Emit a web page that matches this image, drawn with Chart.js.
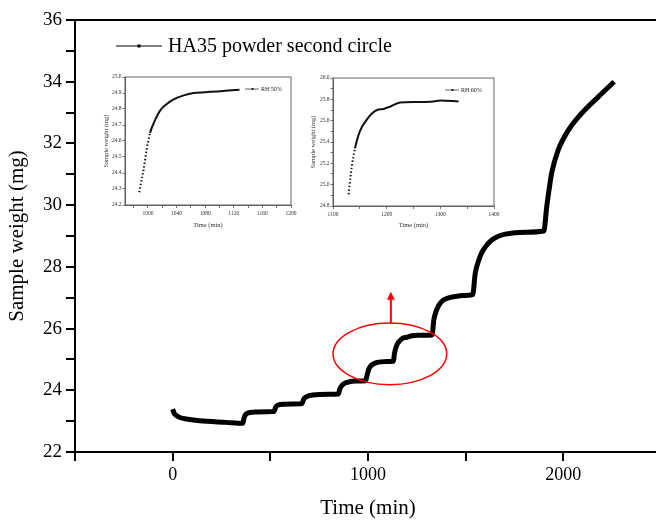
<!DOCTYPE html>
<html>
<head>
<meta charset="utf-8">
<script src="https://cdn.jsdelivr.net/npm/chart.js@4.4.0/dist/chart.umd.min.js"></script>
<style>
  html, body { margin: 0; padding: 0; background: #fff; overflow: hidden; }
  #wrap { position: relative; width: 656px; height: 522px; overflow: hidden; }
  canvas { position: absolute; }
  #main { left: 0; top: 0; }
  #inset50 { left: 95px; top: 68px; }
  #inset60 { left: 305px; top: 68px; }
</style>
</head>
<body>
<div id="wrap">
  <canvas id="main" width="664" height="522"></canvas>
  <canvas id="inset50" width="205" height="175"></canvas>
  <canvas id="inset60" width="200" height="177"></canvas>
</div>
<script>
// main curve
const timeMin = [0, 8, 19, 40, 70, 138, 274, 359, 366, 376, 395, 430, 512, 520, 527, 540, 570, 656,
  662, 670, 685, 716, 801, 848, 856, 870, 895, 940, 988, 994, 1003, 1017, 1036, 1064, 1097,
  1130, 1135, 1141, 1150, 1163, 1182, 1194, 1206, 1225, 1256, 1287, 1328, 1337, 1348, 1362, 1385,
  1405, 1447, 1490, 1536, 1549, 1566, 1583, 1610, 1634, 1670, 1702, 1804, 1900, 1915, 1927, 1940,
  1974, 2026, 2093, 2179, 2260];
const weightMg = [23.39, 23.25, 23.18, 23.11, 23.07, 23.01, 22.96, 22.93, 23.12, 23.23, 23.28, 23.30, 23.31,
  23.32, 23.45, 23.52, 23.55, 23.56, 23.57, 23.70, 23.79, 23.85, 23.87, 23.88, 24.05, 24.18, 24.26, 24.30,
  24.31, 24.45, 24.67, 24.81, 24.88, 24.92, 24.93, 24.94, 25.17, 25.34, 25.50, 25.61, 25.70, 25.71, 25.73,
  25.77, 25.78, 25.78, 25.79, 26.28, 26.55, 26.75, 26.92, 26.98, 27.04, 27.07, 27.10, 27.79, 28.2, 28.47,
  28.72, 28.87, 29.0, 29.06, 29.12, 29.16, 29.95, 30.5, 31.03, 31.79, 32.43, 32.97, 33.51, 34.0];

// inset RH 50%
const time50 = [988, 991, 994, 998, 1003, 1010, 1017, 1026, 1036, 1050, 1064, 1080, 1097, 1112, 1128];
const weight50 = [24.28, 24.35, 24.42, 24.54, 24.65, 24.73, 24.79, 24.83, 24.86, 24.885, 24.90, 24.905, 24.91, 24.915, 24.92];

// inset RH 60%
const time60 = [1129, 1135, 1141, 1150, 1163, 1173, 1182, 1194, 1206, 1225, 1256, 1287, 1300, 1334];
const weight60 = [24.91, 25.17, 25.34, 25.50, 25.61, 25.67, 25.70, 25.71, 25.73, 25.77, 25.775, 25.78, 25.79, 25.78];

const mainLabel = "HA35 powder second circle";
const serif = "'Liberation Serif', 'Times New Roman', serif";

// highlighted region (data units)
const mark = { cx: 1112, cy: 25.18, rx: 291, ry: 1.0, arrowX: 1117, arrowTop: 27.19 };

const toPoints = (xs, ys) => xs.map((t, i) => ({ x: t, y: ys[i] }));

// top border, legend, red ellipse + arrow
const mainOverlay = {
  id: "mainOverlay",
  afterDatasetsDraw(chart) {
    const { ctx, chartArea, scales: { x, y } } = chart;
    ctx.save();
    ctx.strokeStyle = "#000";
    ctx.lineWidth = 2;
    ctx.beginPath();
    ctx.moveTo(chartArea.left - 1, chartArea.top);
    ctx.lineTo(chartArea.right, chartArea.top);
    ctx.lineTo(chartArea.right, chartArea.bottom);
    ctx.stroke();

    // legend
    const ly = chartArea.top + 26;
    const lx = chartArea.left + 41;
    ctx.lineWidth = 1.2;
    ctx.beginPath();
    ctx.moveTo(lx, ly);
    ctx.lineTo(lx + 46, ly);
    ctx.stroke();
    ctx.fillStyle = "#000";
    ctx.fillRect(lx + 21.5, ly - 1.5, 3, 3);
    ctx.font = "20px " + serif;
    ctx.textBaseline = "middle";
    ctx.fillText(mainLabel, lx + 52, ly + 1);

    // ellipse
    const cx = x.getPixelForValue(mark.cx);
    const cy = y.getPixelForValue(mark.cy);
    const rx = x.getPixelForValue(mark.cx + mark.rx) - cx;
    const ry = cy - y.getPixelForValue(mark.cy + mark.ry);
    ctx.strokeStyle = "#ff0000";
    ctx.lineWidth = 1.5;
    ctx.beginPath();
    ctx.ellipse(cx, cy, rx, ry, 0, 0, Math.PI * 2);
    ctx.stroke();

    // arrow
    const ax = x.getPixelForValue(mark.arrowX);
    const tip = y.getPixelForValue(mark.arrowTop);
    ctx.lineWidth = 2;
    ctx.beginPath();
    ctx.moveTo(ax, cy - ry);
    ctx.lineTo(ax, tip + 6);
    ctx.stroke();
    ctx.fillStyle = "#ff0000";
    ctx.beginPath();
    ctx.moveTo(ax, tip);
    ctx.lineTo(ax - 4, tip + 8);
    ctx.lineTo(ax + 4, tip + 8);
    ctx.closePath();
    ctx.fill();
    ctx.restore();
  }
};

new Chart(document.getElementById("main"), {
  type: "line",
  data: {
    datasets: [{
      label: mainLabel,
      data: toPoints(timeMin, weightMg),
      borderColor: "#000",
      borderWidth: 5,
      pointRadius: 0,
      cubicInterpolationMode: "monotone",
      fill: false
    }]
  },
  options: {
    responsive: false,
    animation: false,
    layout: { padding: { top: 20, right: 1, left: 0, bottom: 0 } },
    plugins: { legend: { display: false }, tooltip: { enabled: false } },
    scales: {
      x: {
        type: "linear",
        min: -500,
        max: 2500,
        afterFit: (s) => { s.height = 70; },
        ticks: {
          stepSize: 500,
          autoSkip: false,
          maxRotation: 0,
          padding: 3,
          color: "#000",
          font: { family: serif, size: 18 },
          callback: (v) => (v % 1000 === 0 ? String(v) : "")
        },
        grid: { drawOnChartArea: false, color: "#000", lineWidth: 2, tickLength: 9 },
        border: { color: "#000", width: 2 },
        title: {
          display: true,
          text: "Time (min)",
          color: "#000",
          font: { family: serif, size: 21 },
          padding: { top: 0, bottom: 1 }
        }
      },
      y: {
        min: 22,
        max: 36,
        afterFit: (s) => { s.width = 75; },
        ticks: {
          stepSize: 1,
          autoSkip: false,
          padding: 4,
          color: "#000",
          font: { family: serif, size: 19 },
          callback: (v) => (v % 2 === 0 ? String(v) : "")
        },
        grid: { drawOnChartArea: false, color: "#000", lineWidth: 2, tickLength: 9 },
        border: { color: "#000", width: 2 },
        title: {
          display: true,
          text: "Sample weight (mg)",
          color: "#000",
          font: { family: serif, size: 21 },
          padding: { top: 5, bottom: 0 }
        }
      }
    }
  },
  plugins: [mainOverlay]
});

// inset frame + small legend
const insetOverlay = {
  id: "insetOverlay",
  afterDatasetsDraw(chart, args, opts) {
    const { ctx, chartArea } = chart;
    ctx.save();
    ctx.strokeStyle = "#555";
    ctx.lineWidth = 0.9;
    ctx.strokeRect(chartArea.left, chartArea.top, chartArea.right - chartArea.left, chartArea.bottom - chartArea.top);
    const ly = chartArea.top + opts.legendDy;
    const lx = chartArea.right - opts.legendDx;
    ctx.strokeStyle = "#222";
    ctx.lineWidth = 0.7;
    ctx.beginPath();
    ctx.moveTo(lx, ly);
    ctx.lineTo(lx + 14, ly);
    ctx.stroke();
    ctx.fillStyle = "#222";
    ctx.fillRect(lx + 6.5, ly - 1, 2, 2);
    ctx.font = "6px " + serif;
    ctx.textBaseline = "middle";
    ctx.fillText(chart.data.datasets[0].label, lx + 16, ly + 0.5);
    ctx.restore();
  }
};

function makeInset(id, label, xs, ys, cfg) {
  const small = { family: serif, size: 5.5 };
  new Chart(document.getElementById(id), {
    type: "line",
    data: {
      datasets: [{
        label: label,
        data: toPoints(xs, ys),
        borderColor: "#111",
        borderWidth: 2,
        pointRadius: 0,
        cubicInterpolationMode: "monotone",
        segment: {
          borderDash: (c) => ((c.p1.parsed.y - c.p0.parsed.y) / (c.p1.parsed.x - c.p0.parsed.x) > 0.02 ? [1.4, 2.2] : undefined)
        }
      }]
    },
    options: {
      responsive: false,
      animation: false,
      layout: { padding: { top: cfg.padTop, right: cfg.padRight, left: 0, bottom: 0 } },
      plugins: {
        legend: { display: false },
        tooltip: { enabled: false },
        insetOverlay: { legendDx: cfg.legendDx, legendDy: cfg.legendDy }
      },
      scales: {
        x: {
          type: "linear",
          min: cfg.xMin,
          max: cfg.xMax,
          afterFit: (s) => { s.height = cfg.xHeight; },
          ticks: {
            stepSize: cfg.xStep,
            includeBounds: false,
            autoSkip: false,
            maxRotation: 0,
            padding: 2,
            color: "#333",
            font: small,
            callback: (v) => (Math.round(v) % cfg.xLabelEvery === 0 ? String(v) : "")
          },
          grid: { drawOnChartArea: false, color: "#555", lineWidth: 0.8, tickLength: 3 },
          border: { color: "#555", width: 0.9 },
          title: { display: true, text: "Time (min)", color: "#333", font: { family: serif, size: 6.5 }, padding: { top: 0, bottom: cfg.xTitlePad } }
        },
        y: {
          min: cfg.yMin,
          max: cfg.yMax,
          afterFit: (s) => { s.width = cfg.yWidth; },
          ticks: {
            stepSize: cfg.yStep,
            autoSkip: false,
            padding: 1,
            color: "#333",
            font: small,
            callback: (v) => (Math.round(v * 10) % cfg.yLabelEvery === 0 ? v.toFixed(1) : "")
          },
          grid: { drawOnChartArea: false, color: "#555", lineWidth: 0.8, tickLength: 2.5 },
          border: { color: "#555", width: 0.9 },
          title: { display: true, text: "Sample weight (mg)", color: "#333", font: { family: serif, size: 6.5 }, padding: { top: cfg.yTitlePad, bottom: 0 } }
        }
      }
    },
    plugins: [insetOverlay]
  });
}

makeInset("inset50", "RH 50%", time50, weight50, {
  xMin: 968, xMax: 1200, xStep: 20, xLabelEvery: 40,
  yMin: 24.2, yMax: 25.0, yStep: 0.1, yLabelEvery: 1,
  padTop: 9, padRight: 9, xHeight: 38, yWidth: 30,
  xTitlePad: 14, yTitlePad: 7, legendDx: 46, legendDy: 12
});

makeInset("inset60", "RH 60%", time60, weight60, {
  xMin: 1100, xMax: 1400, xStep: 50, xLabelEvery: 100,
  yMin: 24.8, yMax: 26.0, yStep: 0.1, yLabelEvery: 2,
  padTop: 10, padRight: 11, xHeight: 39, yWidth: 28,
  xTitlePad: 16, yTitlePad: 4, legendDx: 49, legendDy: 12
});
</script>
</body>
</html>
